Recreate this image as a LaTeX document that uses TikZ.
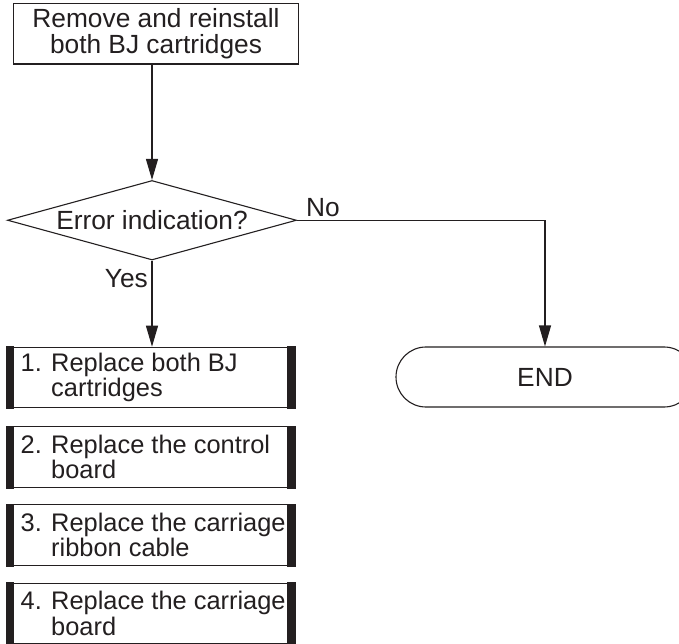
\documentclass[tikz,border=0pt]{standalone}
\usepackage{fontspec}
\setmainfont{Liberation Sans}
\usetikzlibrary{arrows.meta,shapes.geometric}
\definecolor{ink}{HTML}{231F20}
\tikzset{
  every node/.style={text=ink, font=\fontsize{26.3}{26}\selectfont},
  conn/.style={draw=ink, line width=1.1pt},
  arr/.style={conn, -{Triangle[length=21pt,width=12pt]}},
  topbox/.style={draw=ink, line width=1.1pt, rectangle, minimum width=284.5pt, minimum height=60.5pt, inner sep=0pt, align=center},
  decision/.style={draw=ink, line width=1.1pt, diamond, minimum width=289pt, minimum height=79.5pt, inner sep=0pt},
  stepbox/.style={draw=ink, line width=1.1pt, rectangle, minimum width=288pt, minimum height=60.5pt, inner sep=0pt},
  steptext/.style={anchor=west, align=left, inner sep=0pt, font=\fontsize{25.4}{25.5}\selectfont},
  bar/.style={fill=ink, draw=ink, line width=0.5pt},
  terminal/.style={draw=ink, line width=1.1pt, rectangle, rounded corners=29.9pt, minimum width=298pt, minimum height=60pt, inner sep=0pt},
}
\begin{document}
\begin{tikzpicture}[x=1pt,y=-1pt]
\useasboundingbox (0,0) rectangle (679,644);
\fill[white] (0,0) rectangle (679,644);

\node[topbox] (top) at (156,33.75) {Remove and reinstall\\both BJ cartridges};

\node[decision] (diam) at (152,220.25) {};
\node[inner sep=0pt] (diamtext) at (diam.center) {Error indication?};

\node[stepbox] (b1) at (151,377.5) {};
\node[stepbox] (b2) at (151,457) {};
\node[stepbox] (b3) at (151,535) {};
\node[stepbox] (b4) at (151,613.5) {};

\foreach \b in {b1,b2,b3,b4}{
  \fill[bar] (\b.north west) rectangle ([xshift=7pt]\b.south west);
  \fill[bar] ([xshift=-8.5pt]\b.north east) rectangle (\b.south east);
}

\node[steptext] (t1) at ([xshift=14pt]b1.west) {1. Replace both BJ\\\phantom{1. }cartridges};
\node[steptext] (t2) at ([xshift=14pt]b2.west) {2. Replace the control\\\phantom{2. }board};
\node[steptext] (t3) at ([xshift=14pt]b3.west) {3. Replace the carriage\\\phantom{3. }ribbon cable};
\node[steptext] (t4) at ([xshift=14pt]b4.west) {4. Replace the carriage\\\phantom{4. }board};

\begin{scope}
\clip (0,0) rectangle (679,644);
\node[terminal] (end) at (545,377) {END};
\end{scope}

\draw[arr] (top.south -| diam.north) -- (diam.north);
\draw[arr] (diam.south) -- (diam.south |- b1.north);
\draw[arr] (diam.east) -| (end.north);

\node[anchor=base west, inner sep=0pt] (no) at (306,217) {No};
\node[anchor=base east, inner sep=0pt] (yes) at (148,287) {Yes};
\end{tikzpicture}
\end{document}
